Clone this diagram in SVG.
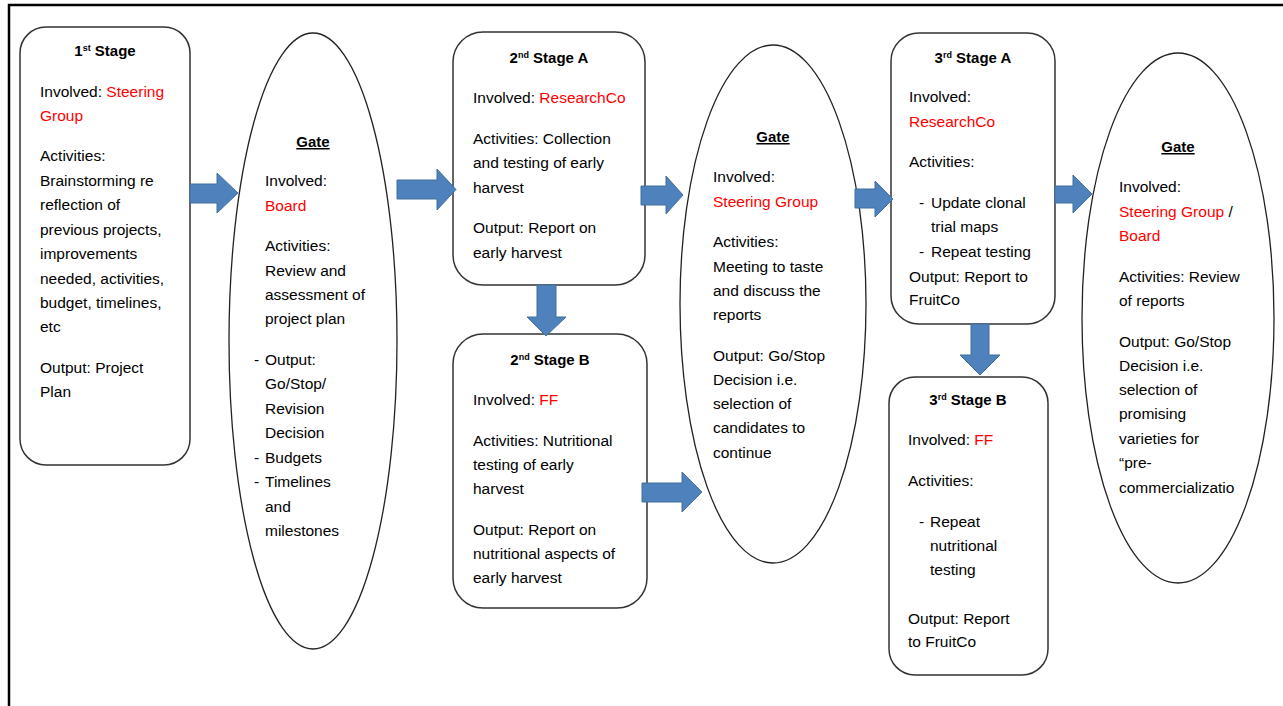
<svg xmlns="http://www.w3.org/2000/svg" width="1283" height="706" viewBox="0 0 1283 706">
<style>
text{font-family:"Liberation Sans",Arial,sans-serif;font-size:15.5px;fill:#000}
.t{font-weight:bold;text-anchor:middle;font-size:15px}
.g{font-weight:bold;text-anchor:middle;text-decoration:underline;font-size:15px}
.r{fill:#ff0000}
.box{fill:#fff;stroke:#333;stroke-width:1.5}
.gate{fill:#fff;stroke:#222;stroke-width:1.3}
.arr{fill:#4f81bd;stroke:#41719c;stroke-width:1}
.sup{font-size:9px}
</style>
<rect x="0" y="0" width="1283" height="706" fill="#fff"/>
<path d="M9 706 V5 H1283" fill="none" stroke="#000" stroke-width="2.5"/>

<g id="stage1">
<rect class="box" x="20" y="27" width="170" height="438" rx="26"/>
<text class="t" x="105" y="56">1<tspan class="sup" dy="-5">st</tspan><tspan dy="5"> Stage</tspan></text>
<text x="40" y="97">Involved: <tspan class="r">Steering</tspan></text>
<text x="40" y="121" class="r">Group</text>
<text x="40" y="161">Activities:</text>
<text x="40" y="186">Brainstorming re</text>
<text x="40" y="210">reflection of</text>
<text x="40" y="235">previous projects,</text>
<text x="40" y="259">improvements</text>
<text x="40" y="284">needed, activities,</text>
<text x="40" y="308">budget, timelines,</text>
<text x="40" y="332">etc</text>
<text x="40" y="373">Output: Project</text>
<text x="40" y="397">Plan</text>
</g>

<g id="gate1">
<ellipse class="gate" cx="313" cy="341" rx="84" ry="308"/>
<text class="g" x="313" y="147">Gate</text>
<text x="265" y="186">Involved:</text>
<text x="265" y="211" class="r">Board</text>
<text x="265" y="251">Activities:</text>
<text x="265" y="276">Review and</text>
<text x="265" y="300">assessment of</text>
<text x="265" y="324">project plan</text>
<text x="254" y="365">-</text><text x="265" y="365">Output:</text>
<text x="265" y="389">Go/Stop/</text>
<text x="265" y="414">Revision</text>
<text x="265" y="438">Decision</text>
<text x="254" y="463">-</text><text x="265" y="463">Budgets</text>
<text x="254" y="487">-</text><text x="265" y="487">Timelines</text>
<text x="265" y="512">and</text>
<text x="265" y="536">milestones</text>
</g>

<g id="stage2a">
<rect class="box" x="453" y="32" width="192" height="253" rx="30"/>
<text class="t" x="549" y="63">2<tspan class="sup" dy="-5">nd</tspan><tspan dy="5"> Stage A</tspan></text>
<text x="473" y="103">Involved: <tspan class="r">ResearchCo</tspan></text>
<text x="473" y="144">Activities: Collection</text>
<text x="473" y="168">and testing of early</text>
<text x="473" y="193">harvest</text>
<text x="473" y="233">Output: Report on</text>
<text x="473" y="258">early harvest</text>
</g>

<g id="stage2b">
<rect class="box" x="453" y="334" width="194" height="274" rx="30"/>
<text class="t" x="550" y="365">2<tspan class="sup" dy="-5">nd</tspan><tspan dy="5"> Stage B</tspan></text>
<text x="473" y="405">Involved: <tspan class="r">FF</tspan></text>
<text x="473" y="446">Activities: Nutritional</text>
<text x="473" y="470">testing of early</text>
<text x="473" y="494">harvest</text>
<text x="473" y="535">Output: Report on</text>
<text x="473" y="559">nutritional aspects of</text>
<text x="473" y="583">early harvest</text>
</g>

<g id="gate2">
<ellipse class="gate" cx="773" cy="304" rx="93" ry="259"/>
<text class="g" x="773" y="142">Gate</text>
<text x="713" y="182">Involved:</text>
<text x="713" y="207" class="r">Steering Group</text>
<text x="713" y="247">Activities:</text>
<text x="713" y="272">Meeting to taste</text>
<text x="713" y="296">and discuss the</text>
<text x="713" y="320">reports</text>
<text x="713" y="361">Output: Go/Stop</text>
<text x="713" y="385">Decision i.e.</text>
<text x="713" y="409">selection of</text>
<text x="713" y="433">candidates to</text>
<text x="713" y="458">continue</text>
</g>

<g id="stage3a">
<rect class="box" x="891" y="33" width="164" height="291" rx="28"/>
<text class="t" x="973" y="63">3<tspan class="sup" dy="-5">rd</tspan><tspan dy="5"> Stage A</tspan></text>
<text x="909" y="102">Involved:</text>
<text x="909" y="127" class="r">ResearchCo</text>
<text x="909" y="167">Activities:</text>
<text x="919" y="208">-</text><text x="931" y="208">Update clonal</text>
<text x="931" y="232">trial maps</text>
<text x="919" y="257">-</text><text x="931" y="257">Repeat testing</text>
<text x="909" y="282">Output: Report to</text>
<text x="909" y="305">FruitCo</text>
</g>

<g id="stage3b">
<rect class="box" x="889" y="377" width="159" height="298" rx="26"/>
<text class="t" x="968" y="405">3<tspan class="sup" dy="-5">rd</tspan><tspan dy="5"> Stage B</tspan></text>
<text x="908" y="445">Involved: <tspan class="r">FF</tspan></text>
<text x="908" y="486">Activities:</text>
<text x="919" y="527">-</text><text x="930" y="527">Repeat</text>
<text x="930" y="551">nutritional</text>
<text x="930" y="575">testing</text>
<text x="908" y="624">Output: Report</text>
<text x="908" y="647">to FruitCo</text>
</g>

<g id="gate3">
<ellipse class="gate" cx="1178" cy="318" rx="96" ry="265"/>
<text class="g" x="1178" y="152">Gate</text>
<text x="1119" y="192">Involved:</text>
<text x="1119" y="217"><tspan class="r">Steering Group</tspan> /</text>
<text x="1119" y="241" class="r">Board</text>
<text x="1119" y="282">Activities: Review</text>
<text x="1119" y="306">of reports</text>
<text x="1119" y="347">Output: Go/Stop</text>
<text x="1119" y="371">Decision i.e.</text>
<text x="1119" y="395">selection of</text>
<text x="1119" y="419">promising</text>
<text x="1119" y="444">varieties for</text>
<text x="1119" y="468">“pre-</text>
<text x="1119" y="493">commercializatio</text>
</g>

<g id="connectors">
<polygon class="arr" points="190,184 217,184 217,173 238,193 217,213 217,203 190,203"/>
<polygon class="arr" points="397,180 437,180 437,169 456,189.5 437,210 437,199 397,199"/>
<polygon class="arr" points="641,186 666,186 666,176 683,195 666,214 666,205 641,205"/>
<polygon class="arr" points="642,483 682,483 682,472 702,492 682,512 682,502 642,502"/>
<polygon class="arr" points="855,189 875,189 875,181 893,199 875,217 875,208 855,208"/>
<polygon class="arr" points="1055,186 1073,186 1073,175 1092,194 1073,213 1073,203 1055,203"/>
<polygon class="arr" points="537,285 556,285 556,317 566,317 546,336 527,317 537,317"/>
<polygon class="arr" points="971,324 989,324 989,355 1000,355 980,375 960,355 971,355"/>
</g>
</svg>
